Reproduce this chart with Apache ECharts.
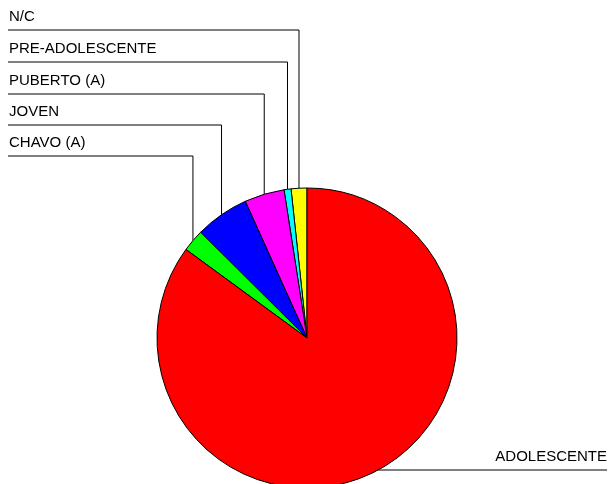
<!DOCTYPE html>
<html>
<head>
<meta charset="utf-8">
<script src="https://cdn.jsdelivr.net/npm/echarts@6/dist/echarts.min.js"></script>
<style>
  html, body { margin: 0; padding: 0; background: #fff; }
  #pieChart { width: 616px; height: 484px; }
</style>
</head>
<body>
<div id="pieChart"></div>
<script>
// categories, counter-clockwise from 12 o'clock
var categories = ['N/C', 'PRE-ADOLESCENTE', 'PUBERTO (A)', 'JOVEN', 'CHAVO (A)', 'ADOLESCENTE'];
// percentages
var shares = [1.7, 0.75, 4.3, 5.8, 2.4, 85.05];
var colors = ['#ffff00', '#00ffff', '#ff00ff', '#0000ff', '#00ff00', '#ff0000'];

// y of each leader line (label sits just above it)
var lineY = [30, 62, 94, 125, 156, 470];

var cx = 307, cy = 338, R = 150;

var myChart = echarts.init(document.getElementById('pieChart'));

var total = shares.reduce(function (a, b) { return a + b; }, 0);
// edge point at the middle of each slice (fallback if library gives none)
function edgePoint(i) {
    var before = 0;
    for (var k = 0; k < i; k++) before += shares[k];
    var mid = (before + shares[i] / 2) / total * Math.PI * 2;
    return [cx - R * Math.sin(mid), cy - R * Math.cos(mid)];
}

var option = {
    animation: false,
    series: [{
        type: 'pie',
        center: [cx, cy],
        radius: R,
        startAngle: 90,
        clockwise: false,
        data: categories.map(function (name, i) {
            return { name: name, value: shares[i], itemStyle: { color: colors[i] } };
        }),
        itemStyle: {
            borderColor: '#000',
            borderWidth: 1
        },
        label: {
            show: true,
            position: 'outside',
            color: '#000',
            fontFamily: 'Liberation Sans, Arial, sans-serif',
            fontSize: 15
        },
        labelLine: {
            show: true,
            smooth: false,
            length: 10,
            length2: 10,
            lineStyle: { color: '#000', width: 1 }
        },
        emphasis: { disabled: true },
        labelLayout: function (params) {
            var i = params.dataIndex;
            var p0 = edgePoint(i);
            var y = lineY[i];
            if (i === categories.length - 1) {
                return {
                    x: 607,
                    y: y - 13,
                    align: 'right',
                    verticalAlign: 'middle',
                    labelLinePoints: [p0, [p0[0], y], [607, y]]
                };
            }
            return {
                x: 9,
                y: y - 13,
                align: 'left',
                verticalAlign: 'middle',
                labelLinePoints: [p0, [p0[0], y], [8, y]]
            };
        }
    }]
};

myChart.setOption(option);
</script>
</body>
</html>
